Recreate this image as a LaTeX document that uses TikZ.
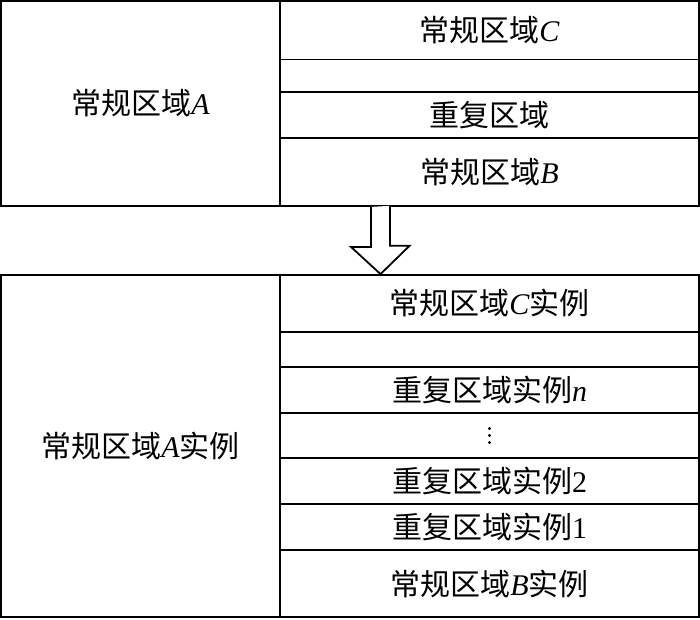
\documentclass[tikz,border=0pt]{standalone}
\usepackage{fontspec}
\setmainfont{Liberation Serif}
\newfontfamily\cjk{Noto Sans CJK SC}
\usetikzlibrary{calc}
\begin{document}
\begin{tikzpicture}[x=1pt,y=-1pt,line width=1.8pt,
  frame/.style={draw,inner sep=0pt,minimum width=698pt},
  leftbox/.style={draw,inner sep=0pt,minimum width=279pt,font=\fontsize{30}{33}\selectfont},
  box/.style={draw,inner sep=0pt,minimum width=419pt,font=\fontsize{30}{33}\selectfont},
  dotmark/.style={fill,circle,inner sep=0pt,minimum size=3.4pt},
  bigarrow/.style={draw,fill=white,line join=miter}]
\useasboundingbox (0,0) rectangle (700,619);
% top structure
\node[frame,minimum height=205pt] (top) at (350,103.5) {};
\node[leftbox,minimum height=205pt] (A) at (140.5,103.5) {{\cjk 常规区域}\textit{A}};
\node[box,minimum height=58.5pt] (C) at (489.5,30.25) {{\cjk 常规区域}\textit{C}};
\node[box,minimum height=45.7pt] (R) at (489.5,115.15) {{\cjk 重复区域}};
\node[box,minimum height=68pt] (B) at (489.5,172) {{\cjk 常规区域}\textit{B}};
% bottom structure
\node[frame,minimum height=342pt] (bot) at (350,446) {};
\node[leftbox,minimum height=342pt] (AI) at (140.5,446) {{\cjk 常规区域}\textit{A}{\cjk 实例}};
\node[box,minimum height=57pt] (CI) at (489.5,303.5) {{\cjk 常规区域}\textit{C}{\cjk 实例}};
\node[box,minimum height=46pt] (Rn) at (489.5,390) {{\cjk 重复区域实例}\textit{n}};
\node[box,minimum height=45pt] (Rd) at (489.5,435.5) {};
\node[dotmark] (d1) at ($(Rd.center)+(0,-7)$) {};
\node[dotmark] (d2) at (Rd.center) {};
\node[dotmark] (d3) at ($(Rd.center)+(0,7)$) {};
\node[box,minimum height=46pt] (R2) at (489.5,481) {{\cjk 重复区域实例}2};
\node[box,minimum height=46pt] (R1) at (489.5,527) {{\cjk 重复区域实例}1};
\node[box,minimum height=67pt] (BI) at (489.5,583.5) {{\cjk 常规区域}\textit{B}{\cjk 实例}};
% hollow arrow
\coordinate (as) at ($(top.south)+(30.5,0)$);
\coordinate (ae) at ($(bot.north)+(30.5,0)$);
\draw[bigarrow] (as) ++(-9.5,0) -- ++(0,40) -- ++(-20,0) -- (ae) -- ++(29,-28.3) -- ++(-19.5,0) -- ++(0,-40);
\end{tikzpicture}
\end{document}
